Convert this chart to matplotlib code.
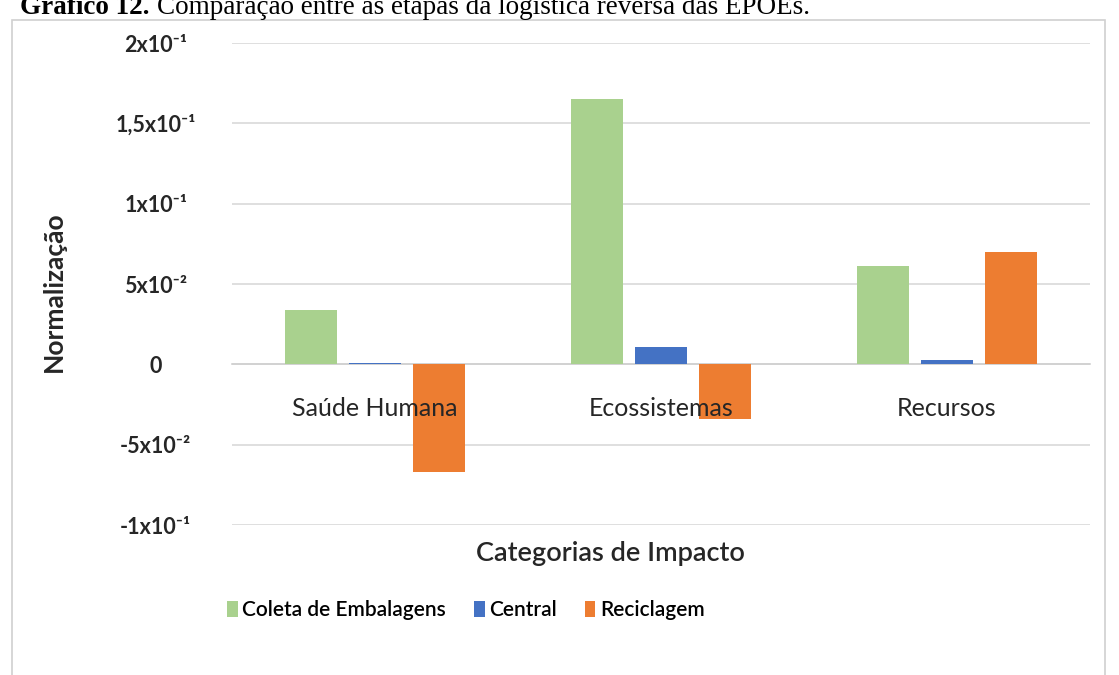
import matplotlib
matplotlib.use("Agg")
import matplotlib.pyplot as plt
import matplotlib.transforms as mtransforms
import numpy as np
from matplotlib.patches import Rectangle

categories = ["Saúde Humana", "Ecossistemas", "Recursos"]
series_names = ["Coleta de Embalagens", "Central", "Reciclagem"]
coleta = [0.034, 0.165, 0.061]
central = [0.001, 0.011, 0.003]
reciclagem = [-0.067, -0.034, 0.070]
yticks = [-0.1, -0.05, 0, 0.05, 0.1, 0.15, 0.2]
ytick_labels = ["-1x10⁻¹", "-5x10⁻²", "0", "5x10⁻²", "1x10⁻¹", "1,5x10⁻¹", "2x10⁻¹"]
colors = ["#a9d18e", "#4472c4", "#ed7d31"]

FAM = ["Lato", "DejaVu Sans"]
plt.rcParams["font.family"] = FAM
TXT = "#262626"

W, H = 1119, 675
fig = plt.figure(figsize=(W / 100, H / 100), dpi=100)

# chart frame
fig.patches.append(Rectangle((12 / W, -0.01), (1105 - 12) / W, 1 - 20 / H + 0.01,
                             transform=fig.transFigure, fill=False,
                             edgecolor="#d0d0d0", lw=1.2))

# caption at the top (partly cut off in the source)
fig.text(150 / W, 1 - 14 / H, "Gráfico 12.", family=["Liberation Serif"], weight="bold",
         fontsize=19.5, va="baseline", ha="right", color="black")
fig.text(157 / W, 1 - 14 / H, "Comparação entre as etapas da logística reversa das EPOEs.",
         family=["Liberation Serif"], fontsize=19.5, va="baseline", ha="left", color="black")

ax = fig.add_axes([232 / W, 1 - 525 / H, (1090 - 232) / W, (525 - 43) / H])
x = np.arange(len(categories))
bw = 0.18
off = 0.224
for i, (vals, name) in enumerate(zip([coleta, central, reciclagem], series_names)):
    ax.bar(x + (i - 1) * off, vals, width=bw, color=colors[i], label=name, zorder=3)

ax.set_xlim(-0.5, 2.5)
ax.set_ylim(-0.1, 0.2)
ax.set_yticks(yticks)
ax.set_yticklabels(ytick_labels)
ax.grid(axis="y", color="#d9d9d9", lw=1.2, zorder=0)
for s in ["top", "right", "left"]:
    ax.spines[s].set_visible(False)
ax.spines["bottom"].set_position(("data", 0))
ax.spines["bottom"].set_color("#d0d0d0")
ax.spines["bottom"].set_linewidth(1.2)
ax.spines["bottom"].set_zorder(2)
ax.tick_params(axis="y", length=0, pad=55, labelsize=15.5, labelcolor=TXT)
for t in ax.get_yticklabels():
    t.set_horizontalalignment("center")
    t.set_fontweight("bold")
ax.set_xticks([])

# category labels drawn on top of the bars, just under the zero line
lab_tr = mtransforms.offset_copy(ax.transData, fig=fig, x=0, y=-52, units="dots")
for xi, c in zip(x, categories):
    ax.text(xi, 0, c, transform=lab_tr, ha="center", va="baseline",
            fontsize=18, color=TXT, zorder=6)

ax.set_xlabel("Categorias de Impacto", fontsize=19.5, color=TXT, fontweight="semibold")
ax.xaxis.set_label_coords((610 - 232) / (1090 - 232), (525 - 553) / 482)
ax.xaxis.label.set_va("center")
ax.set_ylabel("Normalização", fontsize=19, color=TXT, fontweight="bold")
ax.yaxis.set_label_coords(-(232 - 54) / (1090 - 232), (525 - 292) / 482)
ax.yaxis.label.set_va("center")

fig.legend(loc="center", bbox_to_anchor=(466 / W, 1 - 610 / H), ncol=3, frameon=False,
           handlelength=0.5, handleheight=0.8, handletextpad=0.22,
           columnspacing=1.35, prop={"weight": "semibold", "size": 15})

fig.savefig("out.png", dpi=100)
